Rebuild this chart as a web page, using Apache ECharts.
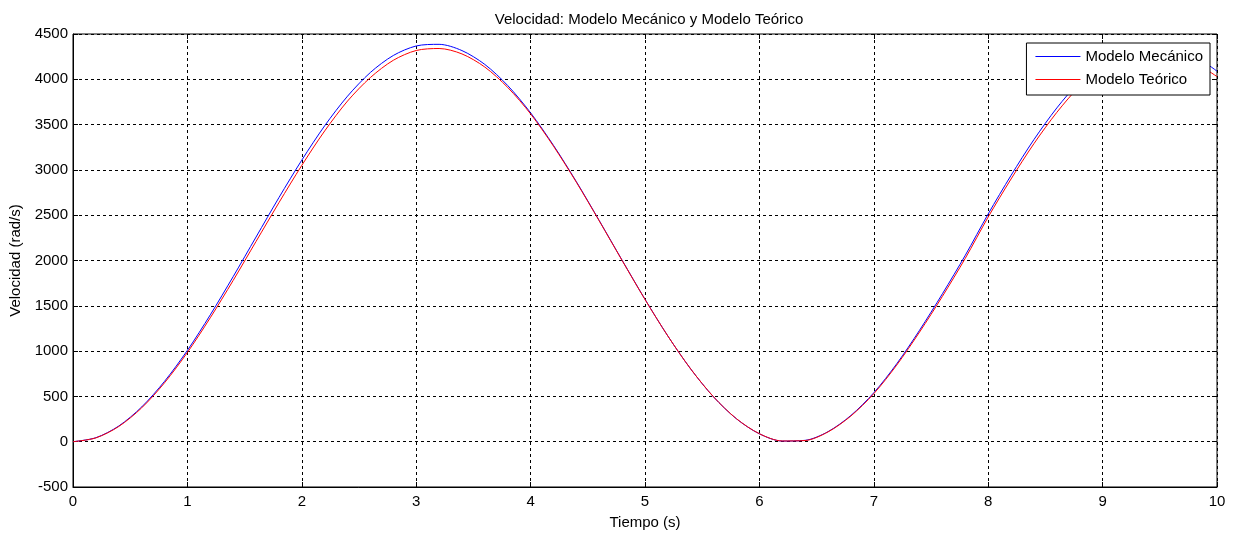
<!DOCTYPE html>
<html>
<head>
<meta charset="utf-8">
<script src="https://cdn.jsdelivr.net/npm/echarts@6/dist/echarts.min.js"></script>
<style>
  html, body { margin: 0; padding: 0; background: #fff; }
  #main { width: 1233px; height: 535px; }
</style>
</head>
<body>
<div id="main"></div>
<script>
// time samples (s)
var tiempo = [0, 0.2, 0.4, 0.6, 0.8, 1, 1.2, 1.4, 1.6, 1.8, 2, 2.2, 2.4, 2.6, 2.8, 3, 3.2, 3.4, 3.6, 3.8,
  4, 4.2, 4.4, 4.6, 4.8, 5, 5.2, 5.4, 5.6, 5.8, 6, 6.2, 6.4, 6.6, 6.8, 7, 7.2, 7.4, 7.6, 7.8,
  8, 8.2, 8.4, 8.6, 8.8, 9, 9.2, 9.4, 9.6, 9.8, 10];

// velocity (rad/s)
var mecanico = [0, 44, 173, 383, 666, 1008, 1400, 1822, 2259, 2694, 3108, 3487, 3814, 4076, 4263, 4368, 4386, 4317, 4164, 3931,
  3630, 3271, 2870, 2441, 2003, 1572, 1166, 802, 493, 252, 87, 7, 15, 111, 290, 540, 859, 1230, 1633, 2058,
  2514, 2940, 3335, 3684, 3976, 4195, 4335, 4390, 4360, 4260, 4090];
var teorico = [0, 42, 168, 373, 650, 985, 1368, 1780, 2210, 2638, 3050, 3430, 3760, 4020, 4210, 4318, 4340, 4280, 4135, 3910,
  3618, 3262, 2864, 2437, 2000, 1570, 1166, 802, 494, 253, 88, 8, 13, 108, 284, 530, 845, 1210, 1605, 2025,
  2480, 2900, 3290, 3635, 3925, 4140, 4280, 4335, 4300, 4190, 4030];

var nombres = ['Modelo Mecánico', 'Modelo Teórico'];
var colores = ['#0000ff', '#ff0000'];

function pares(ys) {
  return tiempo.map(function (t, i) { return [t, ys[i]]; });
}

var font = 'Liberation Sans, Arial, sans-serif';
var fs = 15;
var myChart = echarts.init(document.getElementById('main'));

var gridLine = { show: true, lineStyle: { color: '#000', type: [3, 3], width: 1 } };
var tick = { show: true, inside: true, length: 5, lineStyle: { color: '#000' } };

myChart.setOption({
  animation: false,
  backgroundColor: '#fff',
  title: {
    text: 'Velocidad: Modelo Mecánico y Modelo Teórico',
    left: 644,
    top: 7,
    textAlign: 'center',
    textStyle: { fontFamily: font, fontSize: fs, fontWeight: 'normal', color: '#000' }
  },
  legend: {
    data: nombres,
    orient: 'vertical',
    right: 23,
    top: 43,
    icon: 'rect',
    backgroundColor: '#fff',
    borderColor: '#000',
    borderWidth: 1,
    borderRadius: 0,
    padding: [6, 7, 8, 9],
    itemWidth: 45,
    itemHeight: 1,
    itemGap: 8,
    textStyle: { fontFamily: font, fontSize: fs, color: '#000' }
  },
  grid: {
    left: 73, right: 16, top: 34, bottom: 48,
    show: true, borderColor: '#000', borderWidth: 1, backgroundColor: '#fff'
  },
  xAxis: [{
    type: 'value', min: 0, max: 10, interval: 1,
    name: 'Tiempo (s)', nameLocation: 'middle', nameGap: 28,
    nameTextStyle: { fontFamily: font, fontSize: fs, color: '#000' },
    axisLine: { onZero: false, lineStyle: { color: '#000' } },
    axisTick: tick,
    axisLabel: { fontFamily: font, fontSize: fs, color: '#000', margin: 7 },
    splitLine: gridLine
  }, {
    type: 'value', min: 0, max: 10, interval: 1, position: 'top',
    axisLine: { show: false, onZero: false },
    axisTick: tick,
    axisLabel: { show: false }, splitLine: { show: false }
  }],
  yAxis: [{
    type: 'value', min: -500, max: 4500, interval: 500,
    name: 'Velocidad (rad/s)', nameLocation: 'middle', nameGap: 46,
    nameTextStyle: { fontFamily: font, fontSize: fs, color: '#000' },
    axisLine: { show: true, onZero: false, lineStyle: { color: '#000' } },
    axisTick: tick,
    axisLabel: { fontFamily: font, fontSize: fs, color: '#000', margin: 5,
      formatter: function (v) { return String(v); } },
    splitLine: gridLine
  }, {
    type: 'value', min: -500, max: 4500, interval: 500, position: 'right',
    axisLine: { show: false, onZero: false },
    axisTick: tick,
    axisLabel: { show: false }, splitLine: { show: false }
  }],
  series: [
    {
      name: nombres[0], type: 'line', data: pares(mecanico), smooth: 0.3,
      symbol: 'none', color: colores[0], lineStyle: { width: 1, color: colores[0] }
    },
    {
      name: nombres[1], type: 'line', data: pares(teorico), smooth: 0.3,
      symbol: 'none', color: colores[1], lineStyle: { width: 1, color: colores[1] }
    }
  ]
});
</script>
</body>
</html>
